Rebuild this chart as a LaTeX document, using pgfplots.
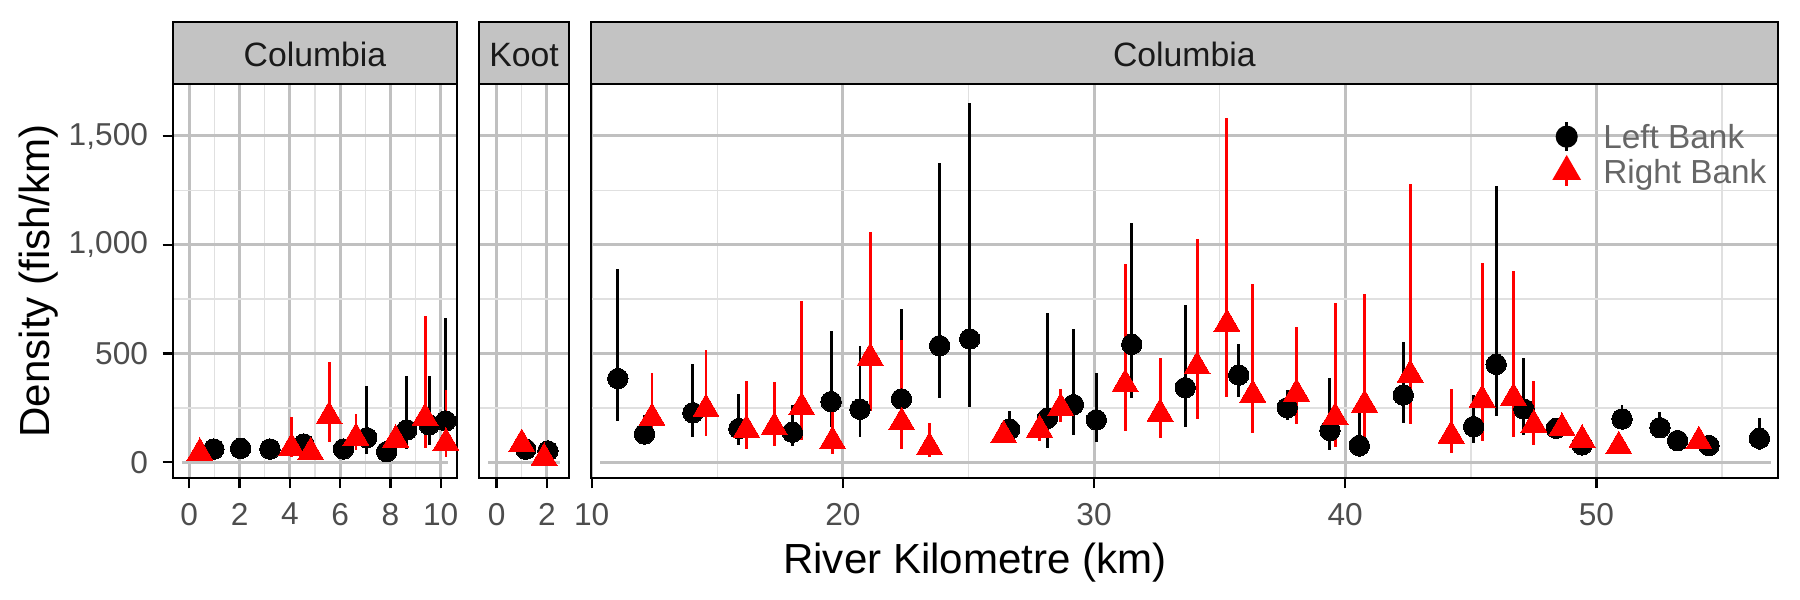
\documentclass[border=0pt]{standalone}
\usepackage{fontspec}
\setmainfont{Liberation Sans}
\usepackage{pgfplots}
\pgfplotsset{compat=1.18}
\usepackage{pgfplotstable}

\definecolor{gmaj}{RGB}{192,192,192}
\definecolor{gmin}{RGB}{224,224,224}
\definecolor{tickgrey}{RGB}{77,77,77}
\definecolor{leggrey}{RGB}{102,102,102}
\definecolor{stripfill}{RGB}{195,195,195}
\definecolor{striptext}{RGB}{26,26,26}

% Columbia (upstream) panel, Left Bank
\pgfplotstableread{
x y lo hi
0.98 61 61 61
2.04 64 64 64
3.21 61 61 61
4.56 84 84 84
6.13 61 61 61
7.06 113 37 351
7.85 49 49 49
8.65 149 60 398
9.54 172 80 398
10.20 190 110 662
}\pOneL
% Columbia (upstream) panel, Right Bank
\pgfplotstableread{
x y lo hi
0.42 43 43 43
4.07 66 23 210
4.83 46 46 46
5.56 211 95 460
6.63 112 57 222
8.21 104 104 104
9.38 204 64 673
10.21 89 23 332
}\pOneR
% Koot panel
\pgfplotstableread{
x y lo hi
1.16 60 60 60
2.04 52 52 52
}\pTwoL
\pgfplotstableread{
x y lo hi
1.00 84 84 84
1.89 20 20 20
}\pTwoR
% Columbia (downstream) panel, Left Bank
\pgfplotstableread{
x y lo hi
11.04 385 190 887
12.10 130 80 217
14.03 228 118 450
15.86 155 80 314
17.99 138 75 264
19.53 279 160 605
20.68 244 118 535
22.33 291 180 703
23.85 536 294 1377
25.05 567 256 1653
26.64 152 118 236
28.14 202 64 685
29.18 265 126 611
30.09 195 92 409
31.50 542 294 1101
33.63 343 164 723
35.76 401 302 544
37.69 251 195 332
39.39 146 57 389
40.56 77 23 233
42.31 309 182 555
45.11 164 87 309
46.01 450 213 1272
47.11 245 126 481
48.40 156 118 202
49.43 80 80 80
51.02 199 149 264
52.53 159 110 233
53.23 100 100 100
54.48 77 77 77
56.49 110 57 202
}\pThreeL
% Columbia (downstream) panel, Right Bank
\pgfplotstableread{
x y lo hi
12.40 204 150 409
14.55 245 123 515
16.16 150 61 374
17.27 162 75 371
18.36 253 103 741
19.59 97 37 240
21.09 480 237 1060
22.34 184 61 562
23.45 70 26 182
26.40 124 124 124
27.83 150 100 205
28.67 250 187 337
31.24 360 146 912
32.63 224 110 478
34.10 441 198 1026
35.29 636 302 1581
36.32 311 133 820
38.06 316 176 624
39.60 207 72 731
40.77 265 110 774
42.59 403 175 1279
44.22 123 44 335
45.45 288 98 918
46.70 296 118 880
47.51 173 80 375
48.63 158 158 158
49.43 104 104 104
50.89 74 74 74
54.08 97 97 97
}\pThreeR

\pgfplotsset{
  panel/.style={
    scale only axis, height=94.63pt, ymin=-73.5, ymax=1739,
    anchor=south west,
    axis line style={black, line width=0.5pt},
    grid=both,
    major grid style={gmaj, line width=0.72pt},
    minor grid style={gmin, line width=0.36pt},
    ytick={500,1000,1500}, minor ytick={250,750,1250},
    tick align=outside, major tick length=2.4pt, minor tick length=0pt,
    xtick pos=left, ytick pos=left,
    tick style={black, line width=0.55pt},
    tick label style={font=\fontsize{7.6}{8}\selectfont, text=tickgrey},
    table/x=x, table/y=y,
    table/y error plus expr=\thisrow{hi}-\thisrow{y},
    table/y error minus expr=\thisrow{y}-\thisrow{lo},
  },
  lb/.style={only marks, mark=*, mark size=2.45pt, black,
    mark options={solid, fill=black, draw=black, line width=0pt},
    error bars/.cd, y dir=both, y explicit, error mark=none,
    error bar style={line width=0.7pt, black}, /pgfplots/.cd},
  rb/.style={only marks, mark=triangle*, mark size=3.6pt, red,
    mark options={solid, fill=red, draw=red, line width=0pt},
    error bars/.cd, y dir=both, y explicit, error mark=none,
    error bar style={line width=0.7pt, red}, /pgfplots/.cd},
  zeroline/.style={gmaj, line width=0.85pt, forget plot},
}

\begin{document}
\begin{tikzpicture}
\path (0,0) rectangle (432pt,144pt);

% Panel 1: Columbia (upstream)
\begin{axis}[panel, at={(41.45pt,29.21pt)}, width=68.3pt,
  xmin=-0.66, xmax=10.66,
  xtick={0,2,4,6,8,10}, xticklabels={0,2,4,6,8,10},
  minor xtick={1,3,5,7,9},
  yticklabels={500,{1,000},{1,500}},
  extra y ticks={0}, extra y tick labels={0},
  extra y tick style={grid=none}]
\addplot[zeroline] coordinates {(-0.3,0) (10.3,0)};
\addplot[lb] table {\pOneL};
\addplot[rb] table {\pOneR};
\end{axis}

% Panel 2: Koot
\begin{axis}[panel, at={(115.03pt,29.21pt)}, width=21.46pt,
  xmin=-0.69, xmax=2.87,
  xtick={0,2}, xticklabels={0,2}, minor xtick={1},
  yticklabels={}, ytick style={draw=none}]
\addplot[zeroline] coordinates {(-0.33,0) (2.53,0)};
\addplot[lb] table {\pTwoL};
\addplot[rb] table {\pTwoR};
\end{axis}

% Panel 3: Columbia (downstream)
\begin{axis}[panel, at={(141.77pt,29.21pt)}, width=284.95pt,
  xmin=9.96, xmax=57.23,
  xtick={10,20,30,40,50}, xticklabels={10,20,30,40,50},
  minor xtick={15,25,35,45,55},
  yticklabels={}, ytick style={draw=none},
  legend cell align=left,
  legend style={draw=none, fill=none, inner sep=0pt, outer sep=0pt,
    font=\fontsize{8}{8}\selectfont, text=leggrey,
    row sep=0pt, column sep=0pt,
    nodes={inner sep=0pt, outer sep=0pt, text height=5.8pt, text depth=0pt},
    at={(rel axis cs:0.808,0.9108)}, anchor=north west}]
\addplot[zeroline] coordinates {(10.33,0) (56.95,0)};
\addplot[legend image code/.code={
   \path[draw=none, fill=none] (-4pt,-4.2pt) rectangle (8.8pt,4.2pt);
   \draw[black, line width=0.7pt] (0,-3.4pt)--(0,3.4pt);
   \fill[black] (0,0) circle (2.45pt);}, lb] table {\pThreeL};
\addlegendentry{Left Bank}
\addplot[legend image code/.code={
   \path[draw=none, fill=none] (-4pt,-4.2pt) rectangle (8.8pt,4.2pt);
   \draw[red, line width=0.7pt] (0,-3.4pt)--(0,3.4pt);
   \fill[red] (90:3.6pt) -- (210:3.6pt) -- (330:3.6pt) -- cycle;}, rb] table {\pThreeR};
\addlegendentry{Right Bank}
\end{axis}

% Facet strips
\begin{scope}[line width=0.5pt]
\filldraw[fill=stripfill, draw=black] (41.45pt,123.84pt) rectangle (109.75pt,138.79pt);
\filldraw[fill=stripfill, draw=black] (115.03pt,123.84pt) rectangle (136.49pt,138.79pt);
\filldraw[fill=stripfill, draw=black] (141.77pt,123.84pt) rectangle (426.72pt,138.79pt);
\end{scope}
\begin{scope}[every node/.style={font=\fontsize{8.1}{9}\selectfont, text=striptext, inner sep=0pt}]
\node at (75.6pt,130.9pt) {Columbia};
\node at (125.76pt,130.9pt) {Koot};
\node at (284.25pt,130.9pt) {Columbia};
\end{scope}

% Axis titles
\node[rotate=90, anchor=base, font=\fontsize{10.1}{11}\selectfont, inner sep=0pt] at (12pt,76.6pt) {Density (fish/km)};
\node[anchor=base, font=\fontsize{10.1}{11}\selectfont, inner sep=0pt] at (234pt,6.24pt) {River Kilometre (km)};
\end{tikzpicture}
\end{document}
